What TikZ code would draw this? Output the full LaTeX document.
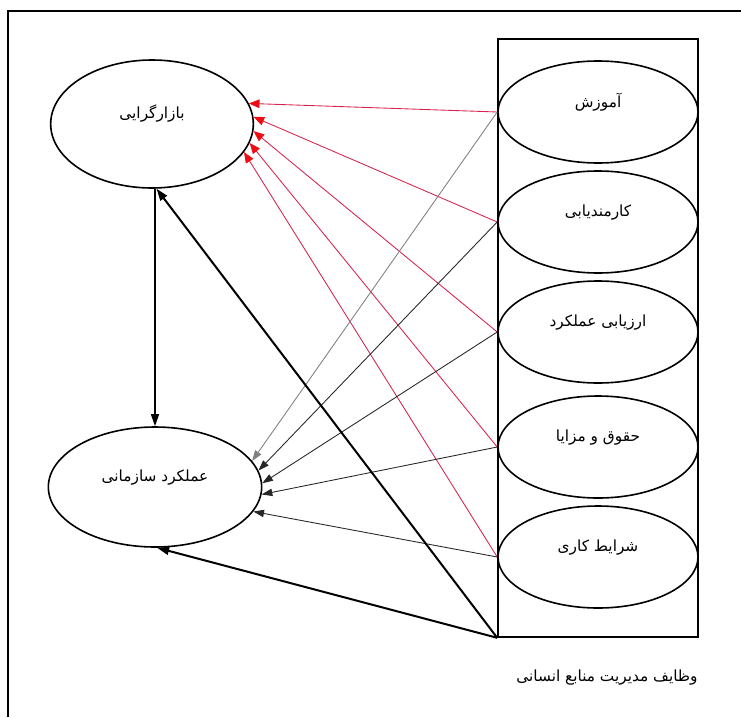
\documentclass[tikz,border=0pt]{standalone}
\usepackage{fontspec}
\newfontfamily\farsi[Script=Arabic]{DejaVu Sans}
\TeXXeTstate=1
\usetikzlibrary{shapes.geometric,arrows.meta}

\definecolor{linkred}{RGB}{214,36,78}
\definecolor{tipred}{RGB}{240,12,20}

\tikzset{
  oval/.style={draw,ellipse,line width=1.2pt,inner sep=0pt},
  func/.style={oval,minimum width=150pt,minimum height=76.5pt},
  txt/.style={font=\farsi\fontsize{11.5}{13}\selectfont},
  redlink/.style={draw=linkred,line width=0.65pt,
    -{Triangle[length=8pt,width=6.5pt,fill=tipred,color=tipred]}},
  blklink/.style={draw=black!85,line width=0.65pt,-{Triangle[length=8pt,width=5.5pt]}},
  heavy/.style={line width=1.5pt,-{Triangle[length=9pt,width=6pt]}}
}

\begin{document}
\begin{tikzpicture}[x=0.75pt,y=-0.75pt]
\useasboundingbox (0,0) rectangle (741,717);

% outer frame
\draw[line width=1.4pt] (8,717) -- (8,11) -- (741,11);

% the two outcomes
\node[oval,minimum width=152pt,minimum height=96pt,
  label={[txt,yshift=8pt]center:\beginR بازارگرایی\endR}] (mkt) at (152,124) {};
\node[oval,minimum width=160pt,minimum height=90pt,
  label={[txt,yshift=7pt]center:\beginR عملکرد سازمانی\endR}] (org) at (155,487) {};

% box of HR functions
\node[draw,line width=1.2pt,minimum width=150pt,minimum height=448.5pt,inner sep=0pt] (hrm) at (598,338) {};
\foreach \n/\y/\t in {e1/112/\beginR آموزش\endR, e2/222/\beginR کارمندیابی\endR,
                      e3/332/\beginR ارزیابی عملکرد\endR, e4/447/\beginR حقوق و مزایا\endR,
                      e5/557/\beginR شرایط کاری\endR}
  \node[func,label={[txt,yshift=7pt]center:\t}] (\n) at (598,\y) {};

\node[txt] (cap) at (607,678) {\beginR وظایف مدیریت منابع انسانی\endR};

% links to market orientation (red)
\foreach \n/\a in {e1/12,e2/4,e3/-4,e4/-11,e5/-17}
  \draw[redlink] (\n.west) -- (mkt.\a);

% links to organisational performance
\draw[blklink,draw=gray] (e1.west) -- (org.15);
\foreach \n/\a in {e2/9,e3/2,e4/-4,e5/-14}
  \draw[blklink] (\n.west) -- (org.\a);

% heavy arrows from the box corner
\draw[heavy] (hrm.south west) -- (mkt.-86);
\draw[heavy] (hrm.south west) -- (org.-88);

% market orientation -> performance
\draw[line width=1pt,-{Triangle[length=9pt,width=6pt]}] (org.north |- mkt.south) -- (org.north);

\end{tikzpicture}
\end{document}
